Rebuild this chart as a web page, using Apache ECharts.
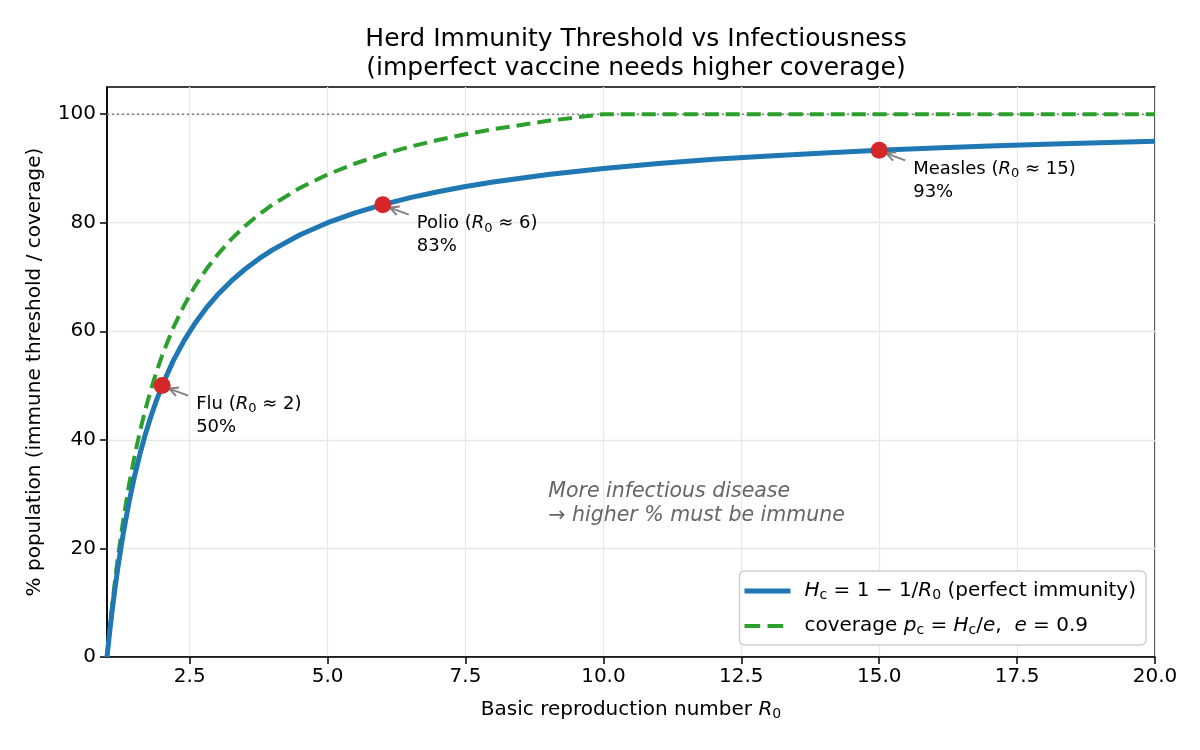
<!DOCTYPE html>
<html>
<head>
<meta charset="utf-8">
<script src="https://cdn.jsdelivr.net/npm/echarts@6/dist/echarts.min.js"></script>
<style>
  html, body { margin: 0; padding: 0; background: #fff; }
  #chart { width: 1200px; height: 750px; }
</style>
</head>
<body>
<div id="chart"></div>
<script>
// basic reproduction number R0 sample points
const r0Values = [1, 1.05, 1.1, 1.15, 1.2, 1.3, 1.4, 1.5, 1.6, 1.7, 1.8, 1.9, 2, 2.2, 2.4, 2.6, 2.8, 3,
  3.25, 3.5, 3.75, 4, 4.5, 5, 5.5, 6, 6.5, 7, 7.5, 8, 9, 10, 11, 12, 13, 14, 15, 16, 17, 18, 19, 20];
// herd immunity threshold, % (perfect immunity)
const thresholdPct = [0, 4.76, 9.09, 13.04, 16.67, 23.08, 28.57, 33.33, 37.5, 41.18, 44.44, 47.37, 50,
  54.55, 58.33, 61.54, 64.29, 66.67, 69.23, 71.43, 73.33, 75, 77.78, 80, 81.82, 83.33, 84.62, 85.71,
  86.67, 87.5, 88.89, 90, 90.91, 91.67, 92.31, 92.86, 93.33, 93.75, 94.12, 94.44, 94.74, 95];
// required vaccine coverage, % (e = 0.9, capped at 100)
const coveragePct = [0, 5.29, 10.1, 14.49, 18.52, 25.64, 31.75, 37.04, 41.67, 45.75, 49.38, 52.63, 55.56,
  60.61, 64.81, 68.38, 71.43, 74.07, 76.92, 79.37, 81.48, 83.33, 86.42, 88.89, 90.91, 92.59, 94.02, 95.24,
  96.3, 97.22, 98.77, 100, 100, 100, 100, 100, 100, 100, 100, 100, 100, 100];

// labelled diseases
const diseaseNames = ["Flu", "Polio", "Measles"];
const diseaseR0 = [2, 6, 15];
const diseasePct = [50, 83.33, 93.33];
const diseaseR0Text = ["2", "6", "15"];
const diseasePctText = ["50%", "83%", "93%"];

const xTicks = [2.5, 5, 7.5, 10, 12.5, 15, 17.5, 20];
const yTicks = [0, 20, 40, 60, 80, 100];
const refLine = [[1, 100], [20, 100]];
const notePos = [9, 25];

const FONT = "DejaVu Sans";

const chart = echarts.init(document.getElementById("chart"));

const option = {
  animation: false,
  backgroundColor: "#fff",
  textStyle: { fontFamily: FONT, color: "#000" },
  title: {
    text: "Herd Immunity Threshold vs Infectiousness\n(imperfect vaccine needs higher coverage)",
    left: 631,
    textAlign: "center",
    top: 20,
    textStyle: { fontSize: 25, fontWeight: "normal", color: "#000", fontFamily: FONT, lineHeight: 29 },
  },
  grid: {
    left: 107, right: 45, top: 87, bottom: 93,
    show: true, borderColor: "#000", borderWidth: 1.5, backgroundColor: "transparent",
  },
  legend: {
    data: [
      { name: "threshold", icon: "rect" },
      { name: "coverage", icon: "path://M0,0h15v4h-15z M22,0h15v4h-15z M44,0h0.01v4h-0.01z" },
    ],
    orient: "vertical",
    right: 54, bottom: 105,
    backgroundColor: "#fff",
    borderColor: "#d0d0d0",
    borderWidth: 1.5,
    borderRadius: 5,
    padding: [10, 10, 8, 5],
    itemWidth: 46,
    itemHeight: 5,
    itemGap: 14,
    textStyle: { fontSize: 20, fontFamily: FONT, color: "#000", padding: [0, 0, 0, 9], rich: {
      i: { fontStyle: "italic", fontSize: 20, fontFamily: FONT },
      s: { fontSize: 14, fontFamily: FONT, verticalAlign: "bottom", padding: [8, 0, 0, 0] },
      t: { fontSize: 20, fontFamily: FONT },
    } },
    formatter: function (name) {
      if (name === "threshold") return "{i|H}{s|c}{t| = 1 − 1/}{i|R}{s|0}{t| (perfect immunity)}";
      return "{t|coverage }{i|p}{s|c}{t| = }{i|H}{s|c}{t|/}{i|e}{t|,  }{i|e}{t| = 0.9}";
    },
  },
  xAxis: {
    type: "value",
    min: 1, max: 20,
    name: "Basic reproduction number {i|R}{s|0}",
    nameLocation: "middle",
    nameGap: 42,
    nameTextStyle: { fontSize: 20, fontFamily: FONT, color: "#000", rich: {
      i: { fontStyle: "italic", fontSize: 20, fontFamily: FONT },
      s: { fontSize: 14, fontFamily: FONT, verticalAlign: "bottom", padding: [8, 0, 0, 0] },
    } },
    axisLine: { show: true, onZero: false, lineStyle: { color: "#000", width: 1.5 } },
    axisTick: { show: true, length: 7, lineStyle: { color: "#000", width: 1.5 }, customValues: xTicks },
    axisLabel: { fontSize: 20, color: "#000", margin: 10, customValues: xTicks,
      formatter: (v) => v.toFixed(1) },
    splitLine: { show: true, lineStyle: { color: "#e8e8e8", width: 1.3 } },
  },
  yAxis: {
    type: "value",
    min: 0, max: 105,
    name: "% population (immune threshold / coverage)",
    nameLocation: "middle",
    nameGap: 62,
    nameTextStyle: { fontSize: 20, fontFamily: FONT, color: "#000" },
    axisLine: { show: true, lineStyle: { color: "#000", width: 1.5 } },
    axisTick: { show: true, length: 7, lineStyle: { color: "#000", width: 1.5 }, customValues: yTicks },
    axisLabel: { fontSize: 20, color: "#000", margin: 11, customValues: yTicks },
    splitLine: { show: true, lineStyle: { color: "#e8e8e8", width: 1.3 } },
  },
  series: [
    {
      name: "ref100",
      type: "line",
      data: refLine,
      symbol: "none",
      silent: true,
      lineStyle: { color: "#808080", width: 1.5, type: [2, 3] },
      z: 1,
    },
    {
      name: "threshold",
      type: "line",
      data: r0Values.map((x, i) => [x, thresholdPct[i]]),
      symbol: "none",
      lineStyle: { color: "#1f77b4", width: 5, join: "round" },
      itemStyle: { color: "#1f77b4" },
      z: 3,
    },
    {
      name: "coverage",
      type: "line",
      data: r0Values.map((x, i) => [x, coveragePct[i]]),
      symbol: "none",
      lineStyle: { color: "#2ca02c", width: 4, type: [14, 7] },
      itemStyle: { color: "#2ca02c" },
      z: 2,
    },
    {
      name: "annotations",
      type: "custom",
      data: diseaseR0.map((x, i) => [x, diseasePct[i], i]),
      silent: true,
      z: 4,
      renderItem: function (params, api) {
        const p = api.coord([api.value(0), api.value(1)]);
        const i = api.value(2);
        const tail = [p[0] + 26, p[1] + 10];
        const head = [p[0] + 7, p[1] + 3];
        const dx = head[0] - tail[0], dy = head[1] - tail[1];
        const len = Math.sqrt(dx * dx + dy * dy);
        const ux = dx / len, uy = dy / len;
        const w1 = [head[0] - ux * 9 - uy * 4.5, head[1] - uy * 9 + ux * 4.5];
        const w2 = [head[0] - ux * 9 + uy * 4.5, head[1] - uy * 9 - ux * 4.5];
        return {
          type: "group",
          children: [
            { type: "line", shape: { x1: tail[0], y1: tail[1], x2: head[0], y2: head[1] },
              style: { stroke: "#808080", lineWidth: 2 } },
            { type: "polyline", shape: { points: [w1, head, w2] },
              style: { stroke: "#808080", lineWidth: 2, fill: null } },
            { type: "text", x: p[0] + 34, y: p[1] + 7,
              style: {
                text: diseaseNames[i] + " ({i|R}{s|0} ≈ " + diseaseR0Text[i] + ")\n" + diseasePctText[i],
                font: "18px " + FONT, fill: "#000", lineHeight: 23,
                align: "left", verticalAlign: "top",
                rich: {
                  i: { fontStyle: "italic", fontSize: 18, fontFamily: FONT, lineHeight: 23 },
                  s: { fontSize: 13, fontFamily: FONT, verticalAlign: "bottom", padding: [6, 0, 0, 0] },
                },
              } },
          ],
        };
      },
    },
    {
      name: "diseases",
      type: "scatter",
      data: diseaseR0.map((x, i) => [x, diseasePct[i]]),
      symbol: "circle",
      symbolSize: 17,
      itemStyle: { color: "#d62728", opacity: 1 },
      z: 5,
    },
    {
      name: "note",
      type: "custom",
      data: [notePos],
      silent: true,
      z: 4,
      renderItem: function (params, api) {
        const p = api.coord([api.value(0), api.value(1)]);
        return {
          type: "text", x: p[0], y: p[1] + 6,
          style: {
            text: "More infectious disease\n→ higher % must be immune",
            font: "italic 20.5px " + FONT, fill: "#666666", lineHeight: 24,
            align: "left", verticalAlign: "bottom",
          },
        };
      },
    },
  ],
};

chart.setOption(option);
</script>
</body>
</html>
